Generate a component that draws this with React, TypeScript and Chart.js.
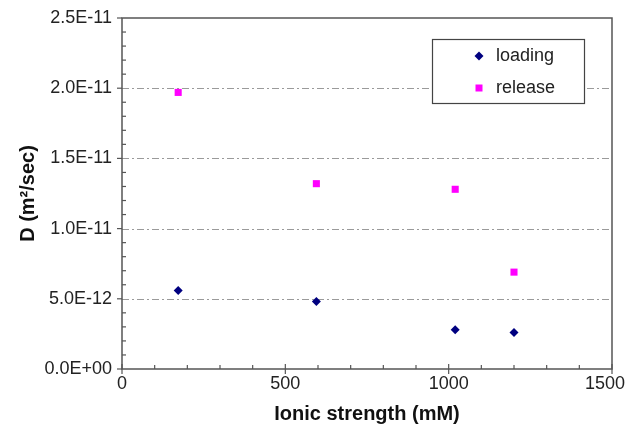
import { useEffect, useRef } from "react";
import { Chart, registerables } from "chart.js";

Chart.register(...registerables);

// ---- data ----
const seriesNames = ["loading", "release"];
const ionicStrength = [172, 595, 1020, 1200];
const loadingD = [5.6e-12, 4.8e-12, 2.8e-12, 2.6e-12];
const releaseD = [1.97e-11, 1.32e-11, 1.28e-11, 6.9e-12];
const xTickValues = [0, 500, 1000, 1500];
const yTickValues = [0, 5e-12, 1e-11, 1.5e-11, 2e-11, 2.5e-11];
const xMinorStep = 100;
const yMinorStep = 1e-12;

const xTitle = "Ionic strength (mM)";
const yTitle = "D (m\u00B2/sec)";

const FONT = "'Liberation Sans', Arial, sans-serif";
const AXIS_COLOR = "#555555";
const TEXT_COLOR = "#222222";
const LOADING_COLOR = "#000080";
const RELEASE_COLOR = "#ff00ff";

function sci(v: number): string {
  const [m, e] = v.toExponential(1).split("e");
  const n = parseInt(e, 10);
  return m + "E" + (n < 0 ? "-" : "+") + String(Math.abs(n)).padStart(2, "0");
}

const decorPlugin = {
  id: "decor",
  beforeDatasetsDraw(chart: any) {
    const { ctx, chartArea, width } = chart;
    const xs = chart.scales.x;
    const ys = chart.scales.y;
    const { left, right, top, bottom } = chartArea;
    ctx.save();
    // grid lines (dash-dot)
    ctx.strokeStyle = "#9a9a9a";
    ctx.lineWidth = 1;
    ctx.setLineDash([7, 3, 2, 3]);
    for (const v of yTickValues) {
      if (v === yTickValues[0] || v === yTickValues[yTickValues.length - 1]) continue;
      const y = Math.round(ys.getPixelForValue(v)) + 0.5;
      ctx.beginPath();
      ctx.moveTo(left, y);
      ctx.lineTo(right, y);
      ctx.stroke();
    }
    ctx.setLineDash([]);
    // frame
    ctx.strokeStyle = AXIS_COLOR;
    ctx.lineWidth = 1.5;
    ctx.beginPath();
    ctx.moveTo(left, top);
    ctx.lineTo(right, top);
    ctx.lineTo(right, bottom);
    ctx.lineTo(left, bottom);
    ctx.closePath();
    ctx.stroke();
    // y ticks
    ctx.lineWidth = 1.2;
    const yMax = yTickValues[yTickValues.length - 1];
    for (let i = 0; i * yMinorStep <= yMax * 1.0000001; i++) {
      const v = i * yMinorStep;
      const y = ys.getPixelForValue(v);
      const major = i % 5 === 0;
      ctx.beginPath();
      if (major) {
        ctx.moveTo(left - 5, y);
        ctx.lineTo(left, y);
      } else {
        ctx.moveTo(left, y);
        ctx.lineTo(left + 4, y);
      }
      ctx.stroke();
    }
    // x ticks
    const xMax = xTickValues[xTickValues.length - 1];
    for (let i = 0; i * xMinorStep <= xMax; i++) {
      const v = i * xMinorStep;
      const x = xs.getPixelForValue(v);
      const major = i % 5 === 0;
      ctx.beginPath();
      if (major) {
        ctx.moveTo(x, bottom - 5);
        ctx.lineTo(x, bottom + 5);
      } else {
        ctx.moveTo(x, bottom - 4);
        ctx.lineTo(x, bottom);
      }
      ctx.stroke();
    }
    // x tick labels (kept inside the canvas like the reference)
    ctx.fillStyle = TEXT_COLOR;
    ctx.font = `18px ${FONT}`;
    ctx.textAlign = "center";
    ctx.textBaseline = "top";
    for (const v of xTickValues) {
      const label = String(v);
      const w = ctx.measureText(label).width;
      let x = xs.getPixelForValue(v);
      if (x + w / 2 > width - 3) x = width - 3 - w / 2;
      ctx.fillText(label, x, bottom + 6);
    }
    ctx.restore();
  },
  afterDatasetsDraw(chart: any) {
    const { ctx } = chart;
    ctx.save();
    // legend box
    const bx = 432, by = 39, bw = 152, bh = 64;
    ctx.fillStyle = "#ffffff";
    ctx.fillRect(bx, by, bw, bh);
    ctx.strokeStyle = "#444444";
    ctx.lineWidth = 1.2;
    ctx.strokeRect(bx + 0.5, by + 0.5, bw, bh);
    const rows = [56, 88];
    chart.data.datasets.forEach((ds: any, i: number) => {
      const cy = rows[i];
      const cx = 479;
      ctx.fillStyle = ds.backgroundColor;
      ctx.beginPath();
      if (ds.pointStyle === "rectRot") {
        const r = 4.5;
        ctx.moveTo(cx, cy - r);
        ctx.lineTo(cx + r, cy);
        ctx.lineTo(cx, cy + r);
        ctx.lineTo(cx - r, cy);
        ctx.closePath();
      } else {
        const s = 3.5;
        ctx.rect(cx - s, cy - s, 2 * s, 2 * s);
      }
      ctx.fill();
      ctx.fillStyle = TEXT_COLOR;
      ctx.font = `18px ${FONT}`;
      ctx.textAlign = "left";
      ctx.textBaseline = "middle";
      ctx.fillText(ds.label, 496, cy);
    });
    ctx.restore();
  },
};

export default function App() {
  const ref = useRef<HTMLCanvasElement | null>(null);
  useEffect(() => {
    if (!ref.current) return;
    const chart = new Chart(ref.current, {
      type: "scatter",
      data: {
        datasets: [
          {
            label: seriesNames[0],
            data: ionicStrength.map((x, i) => ({ x, y: loadingD[i] })),
            pointStyle: "rectRot",
            pointRadius: 4.5,
            backgroundColor: LOADING_COLOR,
            borderColor: LOADING_COLOR,
            borderWidth: 0,
          },
          {
            label: seriesNames[1],
            data: ionicStrength.map((x, i) => ({ x, y: releaseD[i] })),
            pointStyle: "rect",
            pointRadius: 5,
            backgroundColor: RELEASE_COLOR,
            borderColor: RELEASE_COLOR,
            borderWidth: 0,
          },
        ],
      },
      options: {
        animation: false,
        responsive: true,
        maintainAspectRatio: false,
        layout: { padding: { left: 0, top: 18, right: 16, bottom: 0 } },
        plugins: {
          legend: { display: false },
          tooltip: { enabled: false },
        },
        scales: {
          x: {
            type: "linear",
            min: xTickValues[0],
            max: xTickValues[xTickValues.length - 1],
            grid: { display: false, drawTicks: false },
            border: { display: false },
            afterBuildTicks: (s: any) => {
              s.ticks = xTickValues.map((value) => ({ value }));
            },
            afterFit: (s: any) => {
              s.height = 62;
              s.paddingLeft = 0;
              s.paddingRight = 0;
            },
            ticks: { display: false },
            title: {
              display: true,
              text: xTitle,
              color: "#111111",
              font: { family: FONT, size: 20, weight: "bold" },
              padding: { top: 0, bottom: 5 },
            },
          },
          y: {
            type: "linear",
            min: yTickValues[0],
            max: yTickValues[yTickValues.length - 1],
            grid: { display: false, drawTicks: false },
            border: { display: false },
            afterBuildTicks: (s: any) => {
              s.ticks = yTickValues.map((value) => ({ value }));
            },
            afterFit: (s: any) => {
              s.width = 122;
              s.paddingTop = 0;
              s.paddingBottom = 0;
            },
            ticks: {
              color: TEXT_COLOR,
              font: { family: FONT, size: 18 },
              padding: 10,
              autoSkip: false,
              callback: (v: any) => sci(Number(v)),
            },
            title: {
              display: true,
              text: yTitle,
              color: "#111111",
              font: { family: FONT, size: 20, weight: "bold" },
              padding: { top: 16, bottom: 0 },
            },
          },
        },
      },
      plugins: [decorPlugin],
    });
    return () => chart.destroy();
  }, []);
  return (
    <div style={{ position: "fixed", left: 0, top: 0, width: 628, height: 431, background: "#fff" }}>
      <canvas ref={ref} />
    </div>
  );
}
